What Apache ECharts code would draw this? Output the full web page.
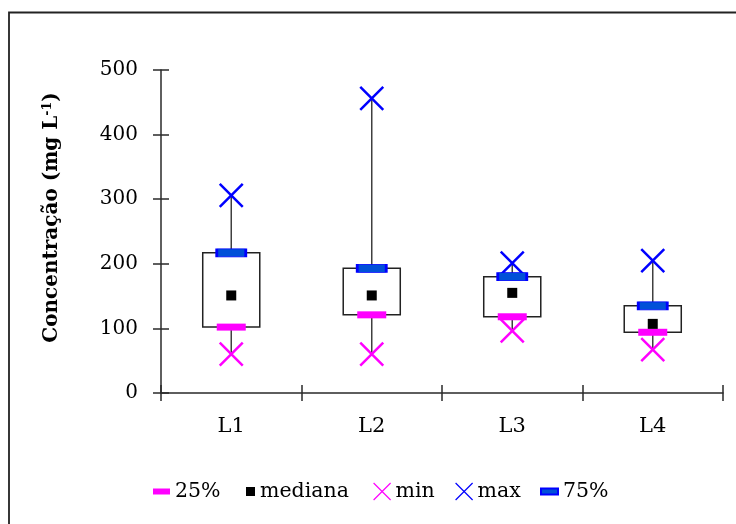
<!DOCTYPE html>
<html>
<head>
<meta charset="utf-8">
<script src="https://cdn.jsdelivr.net/npm/echarts@6/dist/echarts.min.js"></script>
<style>
  html, body { margin: 0; padding: 0; background: #fff; }
  #chart { width: 736px; height: 524px; }
</style>
</head>
<body>
<div id="chart"></div>
<script>
// Concentration summary per sampling point
const categories = ['L1', 'L2', 'L3', 'L4'];
const minVals    = [60, 60, 96, 67];
const q1Vals     = [102, 121, 118, 94];
const medianVals = [151, 151, 155, 107];
const q3Vals     = [217, 193, 180, 135];
const maxVals    = [306, 456, 201, 205];
const yTickLabels = ['0', '100', '200', '300', '400', '500'];

const FONT = '"DejaVu Serif", "Liberation Serif", serif';
const PINK = '#ff00ff';
const BLUE = '#0000ff';
const AXIS = '#2a2a2a';
const CROSS = 'path://M0,0L10,10M10,0L0,10';

const boxData = categories.map((c, i) => [i, minVals[i], q1Vals[i], medianVals[i], q3Vals[i], maxVals[i]]);

const chart = echarts.init(document.getElementById('chart'), null, { renderer: 'canvas' });

// Whisker from min to max, with the white interquartile box drawn over it
function renderBox(params, api) {
  const x = api.value(0);
  const pMin = api.coord([x, api.value(1)]);
  const pQ1 = api.coord([x, api.value(2)]);
  const pQ3 = api.coord([x, api.value(4)]);
  const pMax = api.coord([x, api.value(5)]);
  const bw = api.size([1, 0])[0] * 0.406;
  return {
    type: 'group',
    children: [
      { type: 'line', shape: { x1: pMin[0], y1: pMin[1], x2: pMax[0], y2: pMax[1] },
        style: { stroke: '#404040', lineWidth: 1.5 } },
      { type: 'rect', shape: { x: pQ1[0] - bw / 2, y: pQ3[1], width: bw, height: pQ1[1] - pQ3[1] },
        style: { fill: '#ffffff', stroke: '#222222', lineWidth: 1.5 } }
    ]
  };
}

const legendBase = {
  orient: 'horizontal', top: 481, padding: 0,
  textStyle: { fontFamily: FONT, fontSize: 20.5, color: '#000' },
  selectedMode: false
};

const option = {
  backgroundColor: '#ffffff',
  animation: false,
  graphic: [{
    type: 'rect', silent: true, z: 100,
    shape: { x: 9, y: 12.5, width: 800, height: 600 },
    style: { fill: 'none', stroke: '#222', lineWidth: 1.8 }
  }],
  grid: { left: 161, right: 13, top: 70, bottom: 131, containLabel: false },
  legend: [
    Object.assign({}, legendBase, { left: 153, itemWidth: 17, itemHeight: 6, data: ['25%'] }),
    Object.assign({}, legendBase, { left: 246, itemWidth: 9, itemHeight: 9, data: ['mediana'] }),
    Object.assign({}, legendBase, { left: 373, itemWidth: 17, itemHeight: 17, itemStyle: { borderWidth: 1.2 }, data: ['min'] }),
    Object.assign({}, legendBase, { left: 455, itemWidth: 17, itemHeight: 17, itemStyle: { borderWidth: 1.2 }, data: ['max'] }),
    Object.assign({}, legendBase, { left: 540, itemWidth: 17, itemHeight: 6, data: ['75%'] })
  ],
  xAxis: [{
    type: 'category', data: categories, boundaryGap: true,
    axisLine: { lineStyle: { color: AXIS, width: 1.5 } },
    axisTick: { show: true, length: 8, lineStyle: { color: AXIS, width: 1.5 } },
    axisLabel: { fontFamily: FONT, fontSize: 21, color: '#000', margin: 23 },
    splitLine: { show: false }
  }, {
    type: 'category', data: categories, boundaryGap: true, position: 'bottom',
    axisLine: { show: false },
    axisTick: { show: true, inside: true, length: 8, lineStyle: { color: AXIS, width: 1.5 } },
    axisLabel: { show: false }, splitLine: { show: false }
  }],
  yAxis: [{
    type: 'value', min: 0, max: 500, interval: 100,
    name: '{a|Concentração (mg L}{s|-1}{a|)}',
    nameLocation: 'middle', nameRotate: 90, nameGap: 99,
    nameTextStyle: {
      padding: [0, 0, 0, 28],
      rich: {
        a: { fontFamily: FONT, fontSize: 20, fontWeight: 'bold', color: '#000' },
        s: { fontFamily: FONT, fontSize: 12.5, fontWeight: 'bold', color: '#000', verticalAlign: 'top', padding: [0, 0, 8, 0] }
      }
    },
    axisLine: { show: true, lineStyle: { color: AXIS, width: 1.5 } },
    axisTick: { show: true, length: 8, lineStyle: { color: AXIS, width: 1.5 } },
    axisLabel: { fontFamily: FONT, fontSize: 20, color: '#000', margin: 23,
      formatter: (v) => yTickLabels[Math.round(v / 100)] },
    splitLine: { show: false }
  }, {
    type: 'value', min: 0, max: 500, interval: 100, position: 'left',
    axisLine: { show: false },
    axisTick: { show: true, inside: true, length: 8, lineStyle: { color: AXIS, width: 1.5 } },
    axisLabel: { show: false }, splitLine: { show: false }
  }],
  series: [
    { name: 'box', type: 'custom', renderItem: renderBox, data: boxData,
      encode: { x: 0, y: [1, 2, 3, 4, 5] }, z: 2, silent: true },
    { name: '25%', type: 'scatter', data: q1Vals, symbol: 'rect', symbolSize: [29, 7],
      itemStyle: { color: PINK, opacity: 1 }, z: 3 },
    { name: 'mediana', type: 'scatter', data: medianVals, symbol: 'rect', symbolSize: [10, 10],
      itemStyle: { color: '#000', opacity: 1 }, z: 3 },
    { name: 'min', type: 'scatter', data: minVals, symbol: CROSS, symbolSize: 23,
      itemStyle: { color: 'transparent', borderColor: PINK, borderWidth: 2.5, opacity: 1 }, z: 3 },
    { name: 'max', type: 'scatter', data: maxVals, symbol: CROSS, symbolSize: 23,
      itemStyle: { color: 'transparent', borderColor: BLUE, borderWidth: 2.5, opacity: 1 }, z: 3 },
    { name: '75%', type: 'scatter', data: q3Vals, symbol: 'rect', symbolSize: [29, 8],
      itemStyle: { color: '#0050d8', borderColor: BLUE, borderWidth: 1.5, opacity: 1 }, z: 3 }
  ]
};

chart.setOption(option);
</script>
</body>
</html>
